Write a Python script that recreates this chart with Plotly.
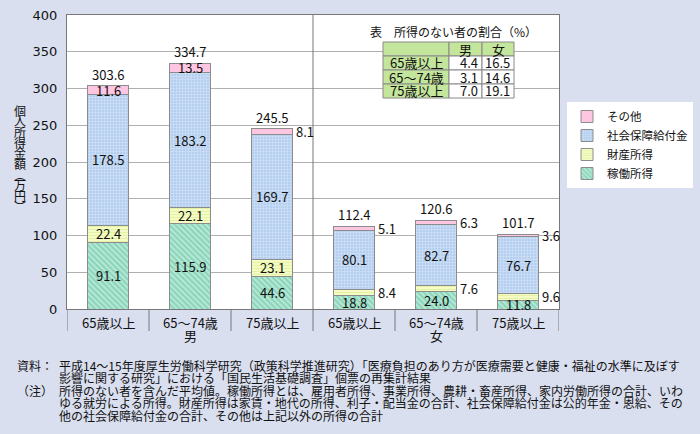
import plotly.graph_objects as go

# data
categories = ["65歳以上", "65～74歳", "75歳以上", "65歳以上", "65～74歳", "75歳以上"]
groups = ["男", "女"]
work = [91.1, 115.9, 44.6, 18.8, 24.0, 11.8]        # 稼働所得
prop = [22.4, 22.1, 23.1, 8.4, 7.6, 9.6]            # 財産所得
social = [178.5, 183.2, 169.7, 80.1, 82.7, 76.7]    # 社会保障給付金
other = [11.6, 13.5, 8.1, 5.1, 6.3, 3.6]            # その他
totals = [303.6, 334.7, 245.5, 112.4, 120.6, 101.7]

tbl_rows = ["65歳以上", "65～74歳", "75歳以上"]
tbl_male = [4.4, 3.1, 7.0]
tbl_female = [16.5, 14.6, 19.1]

notes = [
    ("資料：", "平成14～15年度厚生労働科学研究（政策科学推進研究）「医療負担のあり方が医療需要と健康・福祉の水準に及ぼす"),
    ("", "影響に関する研究」における「国民生活基礎調査」個票の再集計結果"),
    ("（注）", "所得のない者を含んだ平均値。稼働所得とは、雇用者所得、事業所得、農耕・畜産所得、家内労働所得の合計、いわ"),
    ("", "ゆる就労による所得。財産所得は家賃・地代の所得、利子・配当金の合計、社会保障給付金は公的年金・恩給、その"),
    ("", "他の社会保障給付金の合計、その他は上記以外の所得の合計"),
]

FONT = "Noto Sans CJK JP"
BG = "#d9dfef"
L, R, T, B = 67, 559, 15, 309  # plot area in pixels


def px_x(p):
    return (p - L) / (R - L)


def px_y(p):
    return (B - p) / (B - T)


x = list(range(len(categories)))
series = [
    ("稼働所得", work, "#b4e8d4", dict(shape="\\", fgcolor="#52b896", size=4, solidity=0.4)),
    ("財産所得", prop, "#f4fcc4", dict(shape="-", fgcolor="#d2e884", size=3, solidity=0.35)),
    ("社会保障給付金", social, "#b4cff0", dict(shape="+", fgcolor="#f2f7fd", size=3, solidity=0.35)),
    ("その他", other, "#ffc6e2", None),
]

fig = go.Figure()
for name, vals, col, pat in series:
    marker = dict(color=col, line=dict(color="#8c8c8c", width=1))
    if pat:
        marker["pattern"] = dict(fillmode="overlay", **pat)
    fig.add_trace(go.Bar(x=x, y=vals, name=name, width=0.5, marker=marker, hoverinfo="skip"))

annotations = []
tf = dict(family=FONT, size=13, color="#111")


def note(xp, yp, text, xa="center", ya="middle", size=12):
    annotations.append(dict(x=xp, y=yp, xref="paper", yref="paper", text=text, showarrow=False,
                            xanchor=xa, yanchor=ya, font=dict(family=FONT, size=size, color="#111")))


# segment labels
for i in x:
    base = 0
    for name, vals, col, pat in series:
        v = vals[i]
        mid = base + v / 2
        outside = (i >= 3 and name in ("財産所得", "その他")) or (i == 2 and name == "その他")
        if outside:
            annotations.append(dict(x=i + 0.25, y=mid, text=f"{v:.1f}", showarrow=False,
                                    xanchor="left", yanchor="middle", xshift=1, font=tf))
        else:
            annotations.append(dict(x=i, y=mid, text=f"{v:.1f}", showarrow=False,
                                    xanchor="center", yanchor="middle", font=tf))
        base += v
    annotations.append(dict(x=i, y=totals[i], text=f"{totals[i]:.1f}", showarrow=False,
                            xanchor="center", yanchor="bottom", yshift=0, font=tf))

# category labels and group labels
for i, c in enumerate(categories):
    annotations.append(dict(x=i, y=px_y(322), yref="paper", text=c, showarrow=False,
                            xanchor="center", yanchor="middle", font=tf))
for g, gx in zip(groups, [1, 4]):
    annotations.append(dict(x=gx, y=px_y(335), yref="paper", text=g, showarrow=False,
                            xanchor="center", yanchor="middle", font=tf))

# vertical y-axis title, one character per line
ytitle = "個人所得金額︵万円︶"
for k, ch in enumerate(ytitle):
    note(px_x(20), px_y(110 + k * 10.7), ch, size=12)

shapes = []
# tick separators below axis
for k in range(len(categories) + 1):
    shapes.append(dict(type="line", xref="x", yref="paper", x0=k - 0.5, x1=k - 0.5,
                       y0=0, y1=px_y(331), line=dict(color="#777", width=1)))
# men / women divider
shapes.append(dict(type="line", xref="x", yref="paper", x0=2.5, x1=2.5, y0=0, y1=1,
                   line=dict(color="#777", width=1)))

# inset table
note(px_x(453), px_y(32), "表　所得のない者の割合（%）")
col_edges = [383, 449, 482, 514]
row_edges = [42, 56, 70, 84, 98]
green = "#c4e69c"
for r in range(4):
    for c in range(3):
        fill = green if (r == 0 or c == 0) else "white"
        shapes.append(dict(type="rect", xref="paper", yref="paper",
                           x0=px_x(col_edges[c]), x1=px_x(col_edges[c + 1]),
                           y0=px_y(row_edges[r + 1]), y1=px_y(row_edges[r]),
                           fillcolor=fill, line=dict(color="#888", width=1), layer="above"))
for c, h in enumerate(["男", "女"]):
    note(px_x((col_edges[c + 1] + col_edges[c + 2]) / 2), px_y(49), h, size=13)
for r, lab in enumerate(tbl_rows):
    yc = px_y((row_edges[r + 1] + row_edges[r + 2]) / 2)
    note(px_x(416), yc, lab, size=13)
    for c, v in enumerate([tbl_male[r], tbl_female[r]]):
        note(px_x(col_edges[c + 2] - 2), yc, f"{v:.1f}", xa="right", size=13)

# notes
for k, (lab, body) in enumerate(notes):
    yy = px_y(365 + k * 12.6)
    if lab:
        note(px_x(15), yy, lab, xa="left")
    note(px_x(57), yy, body, xa="left")

fig.update_layout(
    barmode="stack",
    width=700, height=434,
    margin=dict(l=L, r=700 - R, t=T, b=434 - B, autoexpand=False),
    paper_bgcolor=BG,
    plot_bgcolor="white",
    font=dict(family=FONT, size=13, color="#111"),
    showlegend=True,
    legend=dict(x=px_x(567), y=px_y(102), xanchor="left", yanchor="top",
                bgcolor="white", traceorder="reversed",
                font=dict(family=FONT, size=11.5, color="#111"),
                itemwidth=30, tracegroupgap=0),
    annotations=annotations,
    shapes=shapes,
)
fig.update_xaxes(range=[-0.5, 5.5], showticklabels=False, showgrid=False,
                 showline=True, linecolor="#777", mirror=True, ticks="", zeroline=False)
fig.update_yaxes(range=[0, 400], dtick=50, showgrid=True, gridcolor="#b0b0b0",
                 showline=True, linecolor="#777", mirror=True, zeroline=False,
                 ticks="outside", ticklen=6, tickcolor="rgba(0,0,0,0)",
                 tickfont=dict(family="DejaVu Sans", size=13, color="#111"))

# remove the default page margin so the figure sits at the window's top-left corner
fig.write_html("out.html", config={"displayModeBar": False},
               post_script="document.body.style.margin='0px';")
